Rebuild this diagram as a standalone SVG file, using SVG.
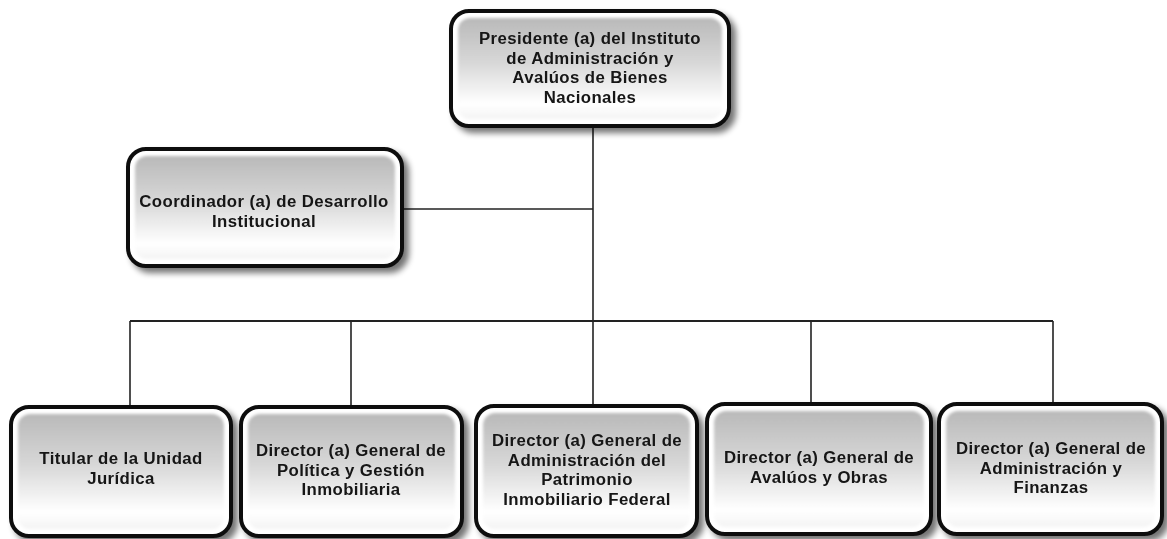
<svg xmlns="http://www.w3.org/2000/svg" width="1167" height="539" viewBox="0 0 1167 539">
<defs>
<linearGradient id="fillg" x1="0" y1="0" x2="0" y2="1">
<stop offset="0" stop-color="#b9b9b9"/>
<stop offset="0.45" stop-color="#d8d8d8"/>
<stop offset="0.85" stop-color="#ffffff"/>
<stop offset="1" stop-color="#f4f4f4"/>
</linearGradient>
<filter id="shadow" x="-10%" y="-10%" width="125%" height="130%">
<feGaussianBlur in="SourceAlpha" stdDeviation="3"/>
<feOffset dx="5" dy="5" result="b"/>
<feComponentTransfer><feFuncA type="linear" slope="0.55"/></feComponentTransfer>
<feMerge><feMergeNode/><feMergeNode in="SourceGraphic"/></feMerge>
</filter>
<filter id="soft"><feGaussianBlur stdDeviation="1.5"/></filter>
</defs>
<style>
.outer{fill:#ffffff;stroke:#111;stroke-width:4}
.inner{fill:url(#fillg);filter:url(#soft)}
.lbl{font-family:"Liberation Sans",Arial,sans-serif;font-weight:bold;font-size:16.8px;letter-spacing:0.4px;fill:#151515;text-anchor:middle}
.con{stroke:#222;stroke-width:1.6;fill:none}
</style>
<rect width="1167" height="539" fill="#ffffff"/>
<g id="connectors">
<line class="con" x1="593" y1="127" x2="593" y2="405"/>
<line class="con" x1="403" y1="209" x2="593" y2="209"/>
<line class="con" x1="130" y1="321" x2="1053" y2="321" style="stroke-width:2"/>
<line class="con" x1="130" y1="321" x2="130" y2="406"/>
<line class="con" x1="351" y1="321" x2="351" y2="406"/>
<line class="con" x1="811" y1="321" x2="811" y2="403"/>
<line class="con" x1="1053" y1="321" x2="1053" y2="403"/>
</g>
<g id="presidente" filter="url(#shadow)">
<rect class="outer" x="451" y="11" width="278" height="115" rx="18"/>
<rect class="inner" x="458" y="18" width="264" height="101" rx="12"/>
<text class="lbl" x="590" y="44">Presidente (a) del Instituto</text>
<text class="lbl" x="590" y="63.5">de Administración y</text>
<text class="lbl" x="590" y="83">Avalúos de Bienes</text>
<text class="lbl" x="590" y="102.5">Nacionales</text>
</g>
<g id="coordinador" filter="url(#shadow)">
<rect class="outer" x="128" y="149" width="274" height="117" rx="18"/>
<rect class="inner" x="135" y="156" width="260" height="103" rx="12"/>
<text class="lbl" x="264" y="207">Coordinador (a) de Desarrollo</text>
<text class="lbl" x="264" y="226.5">Institucional</text>
</g>
<g id="juridica" filter="url(#shadow)">
<rect class="outer" x="11" y="407" width="220" height="129" rx="18"/>
<rect class="inner" x="18" y="414" width="206" height="115" rx="12"/>
<text class="lbl" x="121" y="464">Titular de la Unidad</text>
<text class="lbl" x="121" y="483.5">Jurídica</text>
</g>
<g id="politica" filter="url(#shadow)">
<rect class="outer" x="241" y="407" width="221" height="129" rx="18"/>
<rect class="inner" x="248" y="414" width="207" height="115" rx="12"/>
<text class="lbl" x="351" y="456">Director (a) General de</text>
<text class="lbl" x="351" y="475.5">Política y Gestión</text>
<text class="lbl" x="351" y="495">Inmobiliaria</text>
</g>
<g id="patrimonio" filter="url(#shadow)">
<rect class="outer" x="476" y="406" width="221" height="130" rx="18"/>
<rect class="inner" x="483" y="413" width="207" height="116" rx="12"/>
<text class="lbl" x="587" y="446">Director (a) General de</text>
<text class="lbl" x="587" y="465.5">Administración del</text>
<text class="lbl" x="587" y="485">Patrimonio</text>
<text class="lbl" x="587" y="504.5">Inmobiliario Federal</text>
</g>
<g id="avaluos" filter="url(#shadow)">
<rect class="outer" x="707" y="404" width="224" height="130" rx="18"/>
<rect class="inner" x="714" y="411" width="210" height="116" rx="12"/>
<text class="lbl" x="819" y="463">Director (a) General de</text>
<text class="lbl" x="819" y="482.5">Avalúos y Obras</text>
</g>
<g id="finanzas" filter="url(#shadow)">
<rect class="outer" x="939" y="404" width="223" height="130" rx="18"/>
<rect class="inner" x="946" y="411" width="209" height="116" rx="12"/>
<text class="lbl" x="1051" y="454">Director (a) General de</text>
<text class="lbl" x="1051" y="473.5">Administración y</text>
<text class="lbl" x="1051" y="493">Finanzas</text>
</g>
</svg>
